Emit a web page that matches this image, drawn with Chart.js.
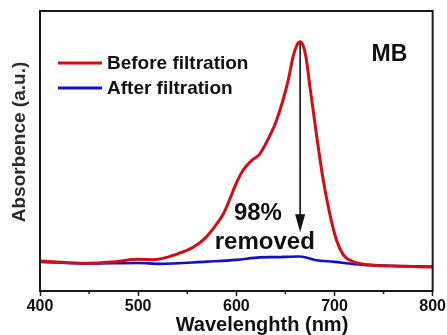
<!DOCTYPE html>
<html>
<head>
<meta charset="utf-8">
<script src="https://cdn.jsdelivr.net/npm/chart.js@4/dist/chart.umd.min.js"></script>
<style>
html,body{margin:0;padding:0;background:#fff;}
#wrap{width:447px;height:335px;position:relative;}
</style>
</head>
<body>
<div id="wrap"><canvas id="c" width="447" height="335"></canvas></div>
<script>
// ---- data ----
const beforeWavelength = [400,425,450,475,500,515,529,542,556,568,578,587,593,600,607,615,624,636,641,647,653,658,662,665,668,671,675,682,688,695,702,709,714,719,725,732,760,800];
const beforeAbs        = [0.107,0.102,0.099,0.104,0.113,0.112,0.120,0.135,0.156,0.188,0.230,0.277,0.325,0.385,0.432,0.464,0.490,0.568,0.610,0.675,0.755,0.840,0.880,0.890,0.877,0.835,0.729,0.550,0.407,0.279,0.182,0.129,0.113,0.105,0.098,0.094,0.089,0.086];
const afterWavelength  = [400,450,500,522,570,600,624,640,665,680,700,720,750,800];
const afterAbs         = [0.104,0.098,0.100,0.097,0.105,0.111,0.120,0.121,0.123,0.111,0.104,0.096,0.091,0.087];
const seriesLabels = ['Before filtration','After filtration'];
const xTicks = [400,500,600,700,800];
const arrowWavelength = 665;
const arrowFrom = 0.885;
const arrowTo = 0.21;
const noteTexts = ['98%','removed','MB'];
const noteX = [622, 629, 756];
const noteY = [0.279, 0.175, 0.843];
const xTitle = 'Wavelenghth (nm)';
const yTitle = 'Absorbence (a.u.)';

const RED = 'rgb(212,12,20)';
const BLUE = 'rgb(16,16,204)';
const FONT = '"Liberation Sans", Arial, sans-serif';

const toPts = (xs, ys) => xs.map((x,i)=>({x:x, y:ys[i]}));

const decor = {
  id:'decor',
  afterDraw(chart){
    const ctx = chart.ctx, a = chart.chartArea;
    const xs = chart.scales.x, ys = chart.scales.y;
    ctx.save();
    // frame
    ctx.strokeStyle = '#1a1a1a';
    ctx.lineWidth = 2;
    ctx.strokeRect(a.left, a.top, a.right - a.left, a.bottom - a.top);
    // minor ticks
    ctx.lineWidth = 1.5;
    for (let v = 450; v < 800; v += 100) {
      const px = xs.getPixelForValue(v);
      ctx.beginPath(); ctx.moveTo(px, a.bottom); ctx.lineTo(px, a.bottom + 3); ctx.stroke();
    }
    // arrow
    const ax = xs.getPixelForValue(arrowWavelength);
    const y1 = ys.getPixelForValue(arrowFrom), y2 = ys.getPixelForValue(arrowTo);
    ctx.strokeStyle = '#111'; ctx.fillStyle = '#111';
    ctx.lineWidth = 1.6;
    ctx.beginPath(); ctx.moveTo(ax, y1); ctx.lineTo(ax, y2 - 14); ctx.stroke();
    ctx.beginPath(); ctx.moveTo(ax - 5, y2 - 18); ctx.lineTo(ax + 5, y2 - 18); ctx.lineTo(ax, y2); ctx.closePath(); ctx.fill();
    // notes
    ctx.textAlign = 'center'; ctx.textBaseline = 'middle';
    noteTexts.forEach((t,i)=>{
      ctx.font = 'bold ' + (t === 'MB' ? 23 : 24) + 'px ' + FONT;
      ctx.fillText(t, xs.getPixelForValue(noteX[i]), ys.getPixelForValue(noteY[i]));
    });
    // legend
    const ds = chart.data.datasets;
    ctx.font = 'bold 19px ' + FONT;
    ctx.textAlign = 'left';
    ds.forEach((d,i)=>{
      const ly = a.top + 52 + i * 25;
      ctx.strokeStyle = d.borderColor; ctx.lineWidth = 3;
      ctx.beginPath(); ctx.moveTo(a.left + 18, ly); ctx.lineTo(a.left + 62, ly); ctx.stroke();
      ctx.fillStyle = '#111';
      ctx.fillText(d.label, a.left + 67, ly + 1);
    });
    // axis titles
    ctx.fillStyle = '#111';
    ctx.font = 'bold 20px ' + FONT;
    ctx.textAlign = 'center';
    ctx.fillText(xTitle, 262, 325);
    ctx.save();
    ctx.translate(20, 142);
    ctx.rotate(-Math.PI/2);
    ctx.fillStyle = '#2a2a2a';
    ctx.font = 'bold 19px ' + FONT;
    ctx.fillText(yTitle, 0, 0);
    ctx.restore();
    ctx.restore();
  }
};

new Chart(document.getElementById('c'), {
  type:'line',
  data:{
    datasets:[
      {label:seriesLabels[0], data:toPts(beforeWavelength, beforeAbs), borderColor:RED, borderWidth:3, pointRadius:0, cubicInterpolationMode:'monotone', fill:false},
      {label:seriesLabels[1], data:toPts(afterWavelength, afterAbs), borderColor:BLUE, borderWidth:2.6, pointRadius:0, cubicInterpolationMode:'monotone', fill:false}
    ]
  },
  options:{
    responsive:false,
    animation:false,
    layout:{padding:{top:11, right:14, left:0, bottom:0}},
    plugins:{legend:{display:false}, tooltip:{enabled:false}},
    scales:{
      x:{
        type:'linear', min:400, max:800,
        afterBuildTicks(s){ s.ticks = xTicks.map(v=>({value:v})); },
        afterFit(s){ s.height = 44; },
        ticks:{font:{family:FONT, size:16, weight:'bold'}, color:'#111', padding:1, maxRotation:0},
        grid:{drawOnChartArea:false, drawTicks:true, tickLength:5, tickColor:'#1a1a1a', tickWidth:1.5},
        border:{color:'#1a1a1a', width:2}
      },
      y:{
        min:0, max:1,
        afterFit(s){ s.width = 40; },
        ticks:{display:false},
        grid:{display:false, drawTicks:false},
        border:{color:'#1a1a1a', width:2}
      }
    }
  },
  plugins:[decor]
});
</script>
</body>
</html>
